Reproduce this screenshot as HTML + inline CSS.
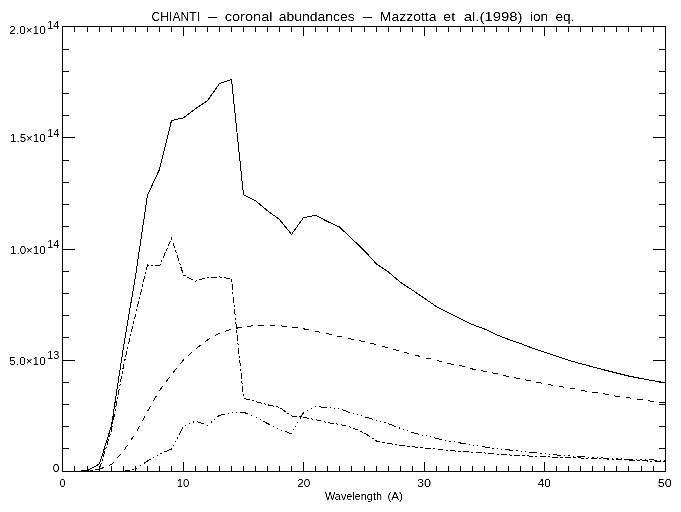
<!DOCTYPE html>
<html><head><meta charset="utf-8"><title>CHIANTI - coronal abundances - Mazzotta et al.(1998) ion eq.</title>
<style>
html,body{margin:0;padding:0;background:#fff;}
body{width:681px;height:512px;overflow:hidden;}
svg{display:block;}
text{font-family:"Liberation Sans",sans-serif;fill:#000;}
</style></head><body>
<svg width="681" height="512" viewBox="0 0 681 512">
<defs><filter id="bw" x="0" y="0" width="100%" height="100%" color-interpolation-filters="sRGB"><feComponentTransfer><feFuncA type="linear" slope="2" intercept="-0.5"/></feComponentTransfer></filter></defs>
<rect x="0" y="0" width="681" height="512" fill="#fff"/>
<g fill="none" stroke="#000" stroke-width="1" shape-rendering="crispEdges">
<rect x="62.5" y="26.5" width="603" height="445"/>
<path d="M74.5 471.5V466 M74.5 26.5V32 M87.5 471.5V466 M87.5 26.5V32 M99.5 471.5V466 M99.5 26.5V32 M111.5 471.5V466 M111.5 26.5V32 M123.5 471.5V466 M123.5 26.5V32 M135.5 471.5V466 M135.5 26.5V32 M147.5 471.5V466 M147.5 26.5V32 M159.5 471.5V466 M159.5 26.5V32 M171.5 471.5V466 M171.5 26.5V32 M183.5 471.5V462 M183.5 26.5V36 M195.5 471.5V466 M195.5 26.5V32 M207.5 471.5V466 M207.5 26.5V32 M219.5 471.5V466 M219.5 26.5V32 M231.5 471.5V466 M231.5 26.5V32 M243.5 471.5V466 M243.5 26.5V32 M255.5 471.5V466 M255.5 26.5V32 M267.5 471.5V466 M267.5 26.5V32 M279.5 471.5V466 M279.5 26.5V32 M291.5 471.5V466 M291.5 26.5V32 M303.5 471.5V462 M303.5 26.5V36 M315.5 471.5V466 M315.5 26.5V32 M327.5 471.5V466 M327.5 26.5V32 M339.5 471.5V466 M339.5 26.5V32 M351.5 471.5V466 M351.5 26.5V32 M364.5 471.5V466 M364.5 26.5V32 M376.5 471.5V466 M376.5 26.5V32 M388.5 471.5V466 M388.5 26.5V32 M400.5 471.5V466 M400.5 26.5V32 M412.5 471.5V466 M412.5 26.5V32 M424.5 471.5V462 M424.5 26.5V36 M436.5 471.5V466 M436.5 26.5V32 M448.5 471.5V466 M448.5 26.5V32 M460.5 471.5V466 M460.5 26.5V32 M472.5 471.5V466 M472.5 26.5V32 M484.5 471.5V466 M484.5 26.5V32 M496.5 471.5V466 M496.5 26.5V32 M508.5 471.5V466 M508.5 26.5V32 M520.5 471.5V466 M520.5 26.5V32 M532.5 471.5V466 M532.5 26.5V32 M544.5 471.5V462 M544.5 26.5V36 M556.5 471.5V466 M556.5 26.5V32 M568.5 471.5V466 M568.5 26.5V32 M580.5 471.5V466 M580.5 26.5V32 M592.5 471.5V466 M592.5 26.5V32 M604.5 471.5V466 M604.5 26.5V32 M616.5 471.5V466 M616.5 26.5V32 M628.5 471.5V466 M628.5 26.5V32 M641.5 471.5V466 M641.5 26.5V32 M653.5 471.5V466 M653.5 26.5V32 M62 448.5H69 M665.5 448.5H659 M62 426.5H69 M665.5 426.5H659 M62 404.5H69 M665.5 404.5H659 M62 382.5H69 M665.5 382.5H659 M62 360.5H75 M665.5 360.5H653 M62 337.5H69 M665.5 337.5H659 M62 315.5H69 M665.5 315.5H659 M62 293.5H69 M665.5 293.5H659 M62 271.5H69 M665.5 271.5H659 M62 249.5H75 M665.5 249.5H653 M62 226.5H69 M665.5 226.5H659 M62 204.5H69 M665.5 204.5H659 M62 182.5H69 M665.5 182.5H659 M62 160.5H69 M665.5 160.5H659 M62 137.5H75 M665.5 137.5H653 M62 115.5H69 M665.5 115.5H659 M62 93.5H69 M665.5 93.5H659 M62 71.5H69 M665.5 71.5H659 M62 49.5H69 M665.5 49.5H659"/>
</g>
<g fill="none" stroke="#000" stroke-width="1" shape-rendering="crispEdges" stroke-linejoin="miter">
<polyline points="62.50,471.50 74.50,471.50 87.50,470.50 99.50,463.90 111.50,425.50 123.50,347.00 135.50,276.00 147.50,195.20 159.50,169.40 171.50,120.60 183.50,117.80 195.50,108.80 207.50,100.60 219.50,83.60 231.50,79.50 243.50,194.90 255.50,200.60 267.50,210.80 279.50,219.50 291.50,234.40 303.50,217.60 315.50,215.30 327.50,221.50 339.50,227.00 351.50,238.40 364.50,250.80 376.50,264.00 388.50,272.10 400.50,282.40 412.50,290.20 424.50,298.40 436.50,306.60 448.50,312.70 460.50,318.90 472.50,324.60 484.50,329.00 496.50,334.70 508.50,339.40 520.50,343.50 532.50,348.20 544.50,352.30 556.50,356.20 568.50,360.20 580.50,363.60 592.50,366.80 604.50,370.00 616.50,373.00 628.50,376.00 641.50,378.60 653.50,380.80 665.50,382.80"/>
<g stroke-dasharray="6 2.2 2.4 2.2">
<polyline points="62.50,471.50 74.50,471.50 87.50,471.50 99.50,469.00 111.50,430.00 123.50,366.00 135.50,314.50 147.50,265.00 159.50,266.00 171.50,238.50 183.50,275.00" stroke-dashoffset="0.99"/>
<polyline points="183.50,275.00 195.50,281.30 207.50,277.30 219.50,277.00 231.50,278.80 243.50,398.20" stroke-dashoffset="8.45"/>
<polyline points="243.50,398.20 255.50,401.50 267.50,404.80 279.50,407.30 291.50,416.00 303.50,417.30" stroke-dashoffset="12.66"/>
<polyline points="303.50,417.30 315.50,419.70 327.50,422.60 339.50,424.40 351.50,427.30 364.50,433.00 376.50,441.00" stroke-dashoffset="0.51"/>
<polyline points="376.50,441.00 388.50,443.30 400.50,445.50 412.50,446.80 424.50,448.00 436.50,449.20 448.50,450.60 460.50,451.40" stroke-dashoffset="2.31"/>
<polyline points="460.50,451.40 472.50,452.20 484.50,453.00 496.50,454.00 508.50,454.90 520.50,455.60 532.50,456.20 544.50,456.80 556.50,457.20 568.50,457.60 580.50,458.00 592.50,458.40 604.50,458.90 616.50,459.50 628.50,460.10 641.50,460.70 653.50,461.30 665.50,462.00" stroke-dashoffset="10.40"/>
</g>
<g stroke-dasharray="5.8 5.5">
<polyline points="62.50,471.50 74.50,471.50 87.50,471.50 99.50,469.20 111.50,464.50 123.50,451.00 135.50,433.50 147.50,411.50 159.50,390.50" stroke-dashoffset="9.36"/>
<polyline points="159.50,390.50 171.50,374.50 183.50,360.00 195.50,349.00 207.50,340.00 219.50,333.20 231.50,329.20" stroke-dashoffset="0.41"/>
<polyline points="231.50,329.20 243.50,326.80 255.50,325.50 267.50,325.20 279.50,325.80 291.50,327.00 303.50,328.80" stroke-dashoffset="6.84"/>
<polyline points="303.50,328.80 315.50,331.30 327.50,333.70 339.50,336.50 351.50,339.10 364.50,341.60 376.50,344.60" stroke-dashoffset="11.03"/>
<polyline points="376.50,344.60 388.50,348.00 400.50,351.40 412.50,354.40 424.50,357.60 436.50,360.20 448.50,363.60" stroke-dashoffset="5.60"/>
<polyline points="448.50,363.60 460.50,365.70 472.50,369.00 484.50,371.20 496.50,373.70 508.50,376.60 520.50,378.90" stroke-dashoffset="0.57"/>
<polyline points="520.50,378.90 532.50,381.30 544.50,383.80 556.50,386.00 568.50,387.90 580.50,390.10 592.50,392.30" stroke-dashoffset="6.29"/>
<polyline points="592.50,392.30 604.50,393.90 616.50,396.30 628.50,397.80 641.50,399.70 653.50,401.50 665.50,402.80" stroke-dashoffset="0.39"/>
</g>
<g stroke-dasharray="8 3 1.3 3 1.3 3 1.3 3.1">
<polyline points="62.50,471.50 74.50,471.50 87.50,471.50 99.50,471.50 111.50,471.50 123.50,471.30 135.50,469.20 147.50,461.00 159.50,454.00 171.50,449.00 183.50,426.00 195.50,421.20 207.50,425.30 219.50,415.30 231.50,412.50 243.50,412.30 255.50,416.50" stroke-dashoffset="12.93"/>
<polyline points="255.50,416.50 267.50,423.50 279.50,429.30 291.50,433.80 303.50,412.60 315.50,406.60 327.50,407.50 339.50,408.60 351.50,413.30" stroke-dashoffset="15.03"/>
<polyline points="351.50,413.30 364.50,416.70 376.50,420.20 388.50,423.80 400.50,428.40 412.50,432.60 424.50,435.50 436.50,438.40 448.50,441.00" stroke-dashoffset="9.64"/>
<polyline points="448.50,441.00 460.50,443.00 472.50,445.20 484.50,447.00 496.50,448.50 508.50,449.90 520.50,451.20 532.50,452.40 544.50,453.60 556.50,455.00 568.50,455.80 580.50,456.60 592.50,457.40 604.50,458.10 616.50,458.70 628.50,459.20 641.50,459.60 653.50,460.00 665.50,460.30" stroke-dashoffset="14.40"/>
</g>
</g>
<g filter="url(#bw)">
<text x="151.60" y="21.00" font-size="13.00" textLength="48.44" lengthAdjust="spacingAndGlyphs">CHIANTI</text>
<text x="206.40" y="21.00" font-size="13.00" textLength="12.64" lengthAdjust="spacingAndGlyphs">-</text>
<text x="224.70" y="21.00" font-size="13.00" textLength="47.90" lengthAdjust="spacingAndGlyphs">coronal</text>
<text x="278.70" y="21.00" font-size="13.00" textLength="76.02" lengthAdjust="spacingAndGlyphs">abundances</text>
<text x="361.10" y="21.00" font-size="13.00" textLength="12.64" lengthAdjust="spacingAndGlyphs">-</text>
<text x="379.80" y="21.00" font-size="13.00" textLength="56.71" lengthAdjust="spacingAndGlyphs">Mazzotta</text>
<text x="443.30" y="21.00" font-size="13.00" textLength="11.79" lengthAdjust="spacingAndGlyphs">et</text>
<text x="463.70" y="21.00" font-size="13.00" textLength="58.82" lengthAdjust="spacingAndGlyphs">al.(1998)</text>
<text x="529.90" y="21.00" font-size="13.00" textLength="18.22" lengthAdjust="spacingAndGlyphs">ion</text>
<text x="555.40" y="21.00" font-size="13.00" textLength="18.93" lengthAdjust="spacingAndGlyphs">eq.</text>
<text x="325.00" y="500.00" font-size="11.00" textLength="56.97" lengthAdjust="spacingAndGlyphs">Wavelength</text>
<text x="387.40" y="500.00" font-size="11.00" textLength="15.65" lengthAdjust="spacingAndGlyphs">(A)</text>
<text x="59.70" y="487.00" font-size="11.50" textLength="5.62" lengthAdjust="spacingAndGlyphs">0</text>
<text x="176.70" y="487.00" font-size="11.50" textLength="12.60" lengthAdjust="spacingAndGlyphs">10</text>
<text x="297.30" y="487.00" font-size="11.50" textLength="12.99" lengthAdjust="spacingAndGlyphs">20</text>
<text x="417.00" y="487.00" font-size="11.50" textLength="14.08" lengthAdjust="spacingAndGlyphs">30</text>
<text x="537.70" y="487.00" font-size="11.50" textLength="12.90" lengthAdjust="spacingAndGlyphs">40</text>
<text x="657.70" y="487.00" font-size="11.50" textLength="13.98" lengthAdjust="spacingAndGlyphs">50</text>
<text x="52.70" y="472.00" font-size="11.50" textLength="6.62" lengthAdjust="spacingAndGlyphs">0</text>
<text x="9.30" y="365.00" font-size="11.50" textLength="36.44" lengthAdjust="spacingAndGlyphs">5.0×10</text>
<text x="47.20" y="359.00" font-size="10.50" textLength="12.13" lengthAdjust="spacingAndGlyphs">13</text>
<text x="10.00" y="254.00" font-size="11.50" textLength="35.72" lengthAdjust="spacingAndGlyphs">1.0×10</text>
<text x="47.20" y="248.00" font-size="10.50" textLength="12.13" lengthAdjust="spacingAndGlyphs">14</text>
<text x="10.00" y="142.00" font-size="11.50" textLength="35.72" lengthAdjust="spacingAndGlyphs">1.5×10</text>
<text x="47.20" y="137.00" font-size="10.50" textLength="12.13" lengthAdjust="spacingAndGlyphs">14</text>
<text x="9.30" y="34.00" font-size="11.50" textLength="36.44" lengthAdjust="spacingAndGlyphs">2.0×10</text>
<text x="47.20" y="29.00" font-size="10.50" textLength="12.13" lengthAdjust="spacingAndGlyphs">14</text>
</g>
</svg>
</body></html>
